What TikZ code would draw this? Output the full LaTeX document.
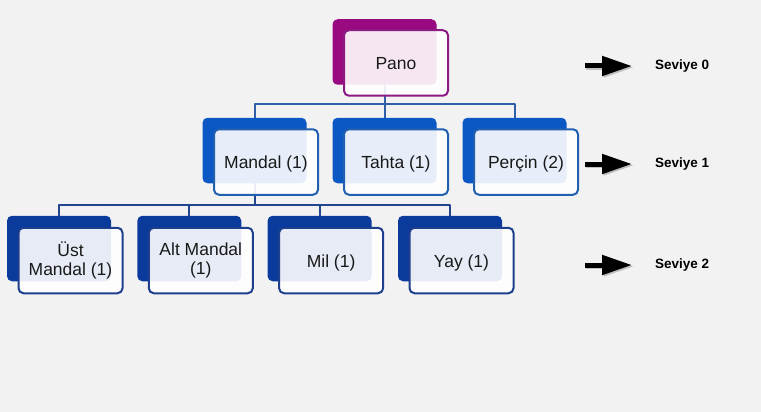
\documentclass[tikz,border=0pt]{standalone}
\usepackage{fontspec}
\setmainfont{Liberation Sans}
\usepackage{xcolor}
\usetikzlibrary{arrows.meta}

\definecolor{bgcol}{HTML}{F2F2F2}
\definecolor{panoback}{HTML}{990A80}
\definecolor{panoline}{HTML}{8C1A82}
\definecolor{oneback}{HTML}{0B57C4}
\definecolor{oneline}{HTML}{2160B0}
\definecolor{twoback}{HTML}{0A3A9C}
\definecolor{twoline}{HTML}{1E3F8E}
\definecolor{linkone}{HTML}{2E5FA8}
\definecolor{linktwo}{HTML}{23458F}

\begin{document}
\begin{tikzpicture}[x=1pt, y=-1pt, line join=round,
    backbox/.style={rectangle, rounded corners=5pt, minimum width=104pt,
        minimum height=65.5pt, inner sep=0pt},
    frontbox/.style={rectangle, rounded corners=5pt, minimum width=104pt,
        minimum height=65.5pt, inner sep=0pt, line width=2pt, fill=white,
        fill opacity=0.9, text opacity=1, align=center, text=black!90,
        font=\fontsize{17.5}{19.5}\selectfont},
    oneline/.style={text height=13.6pt, text depth=0pt},
    link/.style={line width=2pt},
    lvlarrow/.style={line width=5pt, -{Triangle[length=30pt, width=19pt]}},
    lvlshadow/.style={lvlarrow, black!25, shorten <=-1pt},
    lvllabel/.style={anchor=west, inner sep=0pt,
        font=\bfseries\fontsize{13.5}{16}\selectfont}]

    % --- Background and page size ---
    \fill[bgcol] (0,0) rectangle (761,412);
    \useasboundingbox (0,0) rectangle (761,412);

    % --- Back plates (level 0, 1, 2) ---
    \node[backbox, fill=panoback] (pano) at (384.5,52) {};

    \node[backbox, fill=oneback] (mandal) at (254.5,150.5) {};
    \node[backbox, fill=oneback] (tahta)  at (384.5,150.5) {};
    \node[backbox, fill=oneback] (percin) at (514.5,150.5) {};

    \node[backbox, fill=twoback] (ust) at (59,248.5) {};
    \node[backbox, fill=twoback] (alt) at (189.3,248.5) {};
    \node[backbox, fill=twoback] (mil) at (319.6,248.5) {};
    \node[backbox, fill=twoback] (yay) at (450,248.5) {};

    % --- Tree connectors ---
    \foreach \c in {mandal,tahta,percin}
        \draw[link, linkone] (pano.south) -- ++(0,19) -| (\c.north);
    \foreach \c in {ust,alt,mil,yay}
        \draw[link, linktwo] (mandal.south) -- ++(0,22) -| (\c.north);

    % --- Front cards with the part names ---
    \node[frontbox, oneline, draw=panoline] (panoF) at ([shift={(11.5,11)}]pano.center) {Pano};

    \node[frontbox, oneline, draw=oneline] (mandalF) at ([shift={(11.5,11.5)}]mandal.center) {Mandal (1)};
    \node[frontbox, oneline, draw=oneline] (tahtaF)  at ([shift={(11.5,11.5)}]tahta.center) {Tahta (1)};
    \node[frontbox, oneline, draw=oneline] (percinF) at ([shift={(11.5,11.5)}]percin.center) {Perçin (2)};

    \node[frontbox, draw=twoline] (ustF) at ([shift={(11.5,12)}]ust.center) {Üst\\Mandal (1)};
    \node[frontbox, draw=twoline] (altF) at ([shift={(11.5,12)}]alt.center) {Alt Mandal\\(1)};
    \node[frontbox, oneline, draw=twoline] (milF) at ([shift={(11.5,12)}]mil.center) {Mil (1)};
    \node[frontbox, oneline, draw=twoline] (yayF) at ([shift={(11.5,12)}]yay.center) {Yay (1)};

    % --- Level labels with arrows ---
    \node[lvllabel] (lvl0) at (655,66) {Seviye 0};
    \node[lvllabel] (lvl1) at (655,164) {Seviye 1};
    \node[lvllabel] (lvl2) at (655,265) {Seviye 2};

    \foreach \l in {lvl0,lvl1,lvl2} {
        \draw[lvlshadow] ([shift={(-68.5,1.5)}]\l.west) -- ([shift={(-21.5,1.5)}]\l.west);
        \draw[lvlarrow] ([xshift=-70pt]\l.west) -- ([xshift=-23pt]\l.west);
    }

\end{tikzpicture}
\end{document}
